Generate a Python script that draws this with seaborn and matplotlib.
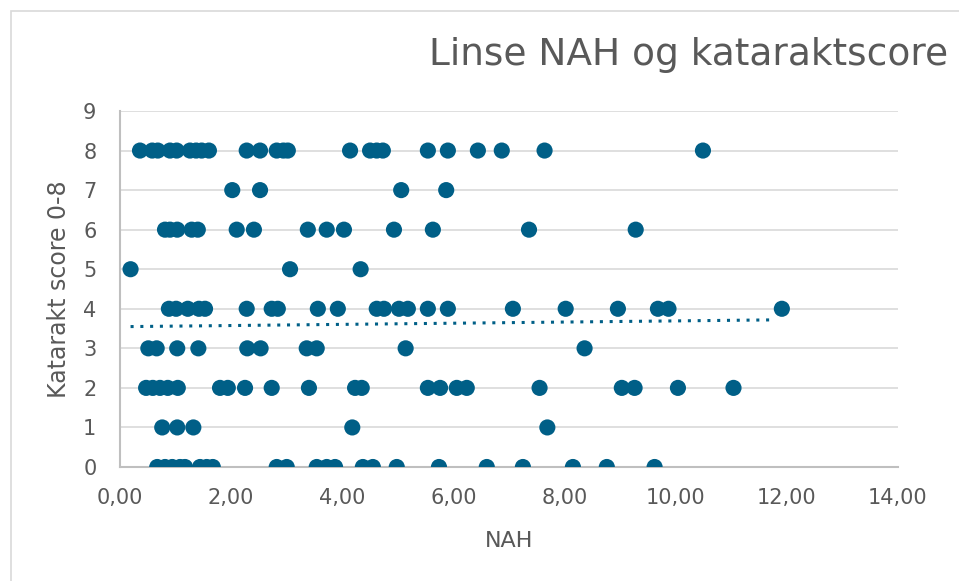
import numpy as np
import pandas as pd
import matplotlib
matplotlib.use('Agg')
import matplotlib.pyplot as plt
import seaborn as sns
from matplotlib.ticker import FuncFormatter

# NAH values read per katarakt score row
nah_8 = [0.36, 0.58, 0.68, 0.90, 1.02, 1.26, 1.37, 1.47, 1.60, 2.28, 2.52, 2.82, 2.94, 3.02,
         4.14, 4.50, 4.62, 4.73, 5.54, 5.90, 6.44, 6.87, 7.64, 10.49]
nah_7 = [2.02, 2.52, 5.06, 5.87]
nah_6 = [0.81, 0.90, 1.03, 1.29, 1.40, 2.10, 2.41, 3.38, 3.72, 4.03, 4.93, 5.63, 7.36, 9.28]
nah_5 = [0.19, 3.06, 4.33]
nah_4 = [0.88, 1.01, 1.22, 1.42, 1.53, 2.28, 2.73, 2.84, 3.56, 3.92, 4.62, 4.75, 5.02, 5.18,
         5.54, 5.90, 7.07, 8.02, 8.96, 9.68, 9.87, 11.91]
nah_3 = [0.51, 0.66, 1.03, 1.41, 2.29, 2.53, 3.36, 3.54, 5.14, 8.36]
nah_2 = [0.47, 0.59, 0.72, 0.86, 1.04, 1.80, 1.94, 2.25, 2.73, 3.40, 4.23, 4.35, 5.54, 5.76,
         6.06, 6.24, 7.55, 9.03, 9.26, 10.04, 11.04]
nah_1 = [0.76, 1.03, 1.32, 4.18, 7.69]
nah_0 = [0.67, 0.81, 0.94, 1.08, 1.17, 1.44, 1.56, 1.67, 2.82, 3.00, 3.54, 3.72, 3.87, 4.37,
         4.55, 4.98, 5.74, 6.60, 7.25, 8.15, 8.76, 9.62]

# linear trendline as drawn in the chart (endpoints)
trend_x = [0.19, 11.80]
trend_y = [3.55, 3.72]

rows = {8: nah_8, 7: nah_7, 6: nah_6, 5: nah_5, 4: nah_4, 3: nah_3, 2: nah_2, 1: nah_1, 0: nah_0}
df = pd.DataFrame([(x, s) for s, xs in rows.items() for x in xs], columns=['NAH', 'score'])
trend = pd.DataFrame({'NAH': trend_x, 'score': trend_y})

color = '#005f87'
grey = '#595959'

sns.set_style('white')
plt.rcParams['font.family'] = ['DejaVu Sans']

fig = plt.figure(figsize=(9.59, 5.81), dpi=100)
ax = fig.add_axes([120 / 959, 1 - 467 / 581, (898 - 120) / 959, (467 - 111) / 581])

# chart border
fig.patches.append(plt.Rectangle((11 / 959, -0.01), 1.0, 1 - 11 / 581 + 0.01,
                                 transform=fig.transFigure, fill=False,
                                 edgecolor='#d9d9d9', linewidth=1.2))

ax.yaxis.grid(True, color='#d9d9d9', linewidth=1.2)
ax.set_axisbelow(True)

sns.scatterplot(data=df, x='NAH', y='score', ax=ax, color=color, s=135,
                edgecolor='none', linewidth=0, zorder=3)
sns.lineplot(data=trend, x='NAH', y='score', ax=ax, color=color,
             linestyle=(0, (1, 2.2)), linewidth=2.2, zorder=2)

ax.set_xlim(0, 14)
ax.set_ylim(0, 9)
ax.set_xticks(range(0, 15, 2))
ax.set_yticks(range(0, 10))
ax.xaxis.set_major_formatter(FuncFormatter(lambda v, p: f'{v:.2f}'.replace('.', ',')))
ax.tick_params(axis='both', length=0, labelsize=15, colors=grey)
ax.tick_params(axis='x', pad=15)
ax.tick_params(axis='y', pad=17)

for side in ['top', 'right']:
    ax.spines[side].set_visible(False)
for side in ['left', 'bottom']:
    ax.spines[side].set_color('#bfbfbf')
    ax.spines[side].set_linewidth(1.5)

ax.set_xlabel('NAH', fontsize=16, color=grey, labelpad=17)
ax.set_ylabel('Katarakt score 0-8', fontsize=17, color=grey, labelpad=9)
fig.text(948 / 959, 1 - 55 / 581, 'Linse NAH og kataraktscore', ha='right', va='center',
         fontsize=27, color=grey)

fig.savefig('out.png', dpi=100, facecolor='white')
